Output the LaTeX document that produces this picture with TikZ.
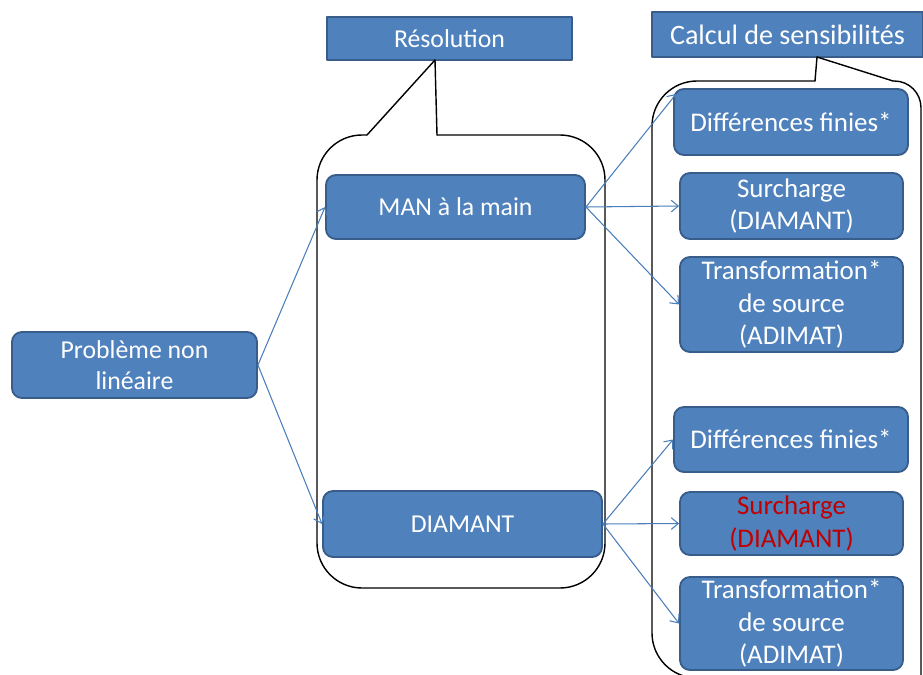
\documentclass[tikz,border=0pt]{standalone}
\usepackage{fontspec}
\setmainfont{Carlito}
\usetikzlibrary{arrows.meta,calc}
\definecolor{boxblue}{RGB}{79,129,189}
\definecolor{boxline}{RGB}{56,93,138}
\definecolor{linkblue}{RGB}{74,126,187}
\definecolor{darkred}{RGB}{192,0,0}
\begin{document}
\begin{tikzpicture}[x=0.03cm,y=-0.03cm,font=\fontsize{22}{27}\selectfont,line cap=round,line join=round,>={Straight Barb[length=6pt,width=10pt]},
	bloc/.style={draw=boxline,line width=1.6pt,fill=boxblue,text=white,rounded corners=0.3cm,align=center,inner sep=0pt},
	sens/.style={bloc,font=\fontsize{23}{27.5}\selectfont},
	titre/.style={bloc,sharp corners},
	fleche/.style={->,draw=linkblue,line width=0.9pt},
	bulle/.style={line width=1.2pt}]
			\useasboundingbox (0,0) rectangle (923,675);
			\clip (0,0) rectangle (923,675);
			% titres
			\node[titre,minimum width=7.35cm,minimum height=1.29cm] (res) at (449.5,38.5) {Résolution};
			\node[titre,font=\fontsize{24}{28}\selectfont,minimum width=8.13cm,minimum height=1.35cm] (calc) at (787.5,34.5) {Calcul de sensibilités};
			% bulles
			\draw[bulle,rounded corners=1.35cm] (367,135) -- (317,135) -- (317,588) -- (605,588) -- (605,135) -- (437,135);
			\draw[bulle] (367,135) -- (435,60) -- (437,135);
			\draw[bulle,rounded corners=1.35cm] (815,81) -- (652,81) -- (652,678) -- (921,678);
			\draw[bulle,rounded corners=0.8cm] (921,678) -- (921,81) -- (893,81);
			\draw[bulle] (815,81) -- (817,57) -- (893,81);
			% blocs
			\node[bloc,minimum width=7.35cm,minimum height=1.98cm] (prob) at (134.5,365) {Problème non\\linéaire};
			\node[bloc,minimum width=7.77cm,minimum height=1.92cm] (man) at (455.5,207) {MAN à la main};
			\node[bloc,minimum width=8.37cm,minimum height=1.98cm] (diam) at (462.5,524) {DIAMANT};
			\node[sens,minimum width=7.02cm,minimum height=1.98cm] (d1) at (791,122) {Différences finies*};
			\node[sens,minimum width=6.69cm,minimum height=1.98cm] (s1) at (791.5,206) {Surcharge\\(DIAMANT)};
			\node[sens,minimum width=6.69cm,minimum height=2.85cm] (t1) at (791.5,304.5) {Transformation*\\de source\\(ADIMAT)};
			\node[sens,minimum width=7.02cm,minimum height=1.95cm] (d2) at (791,439.5) {Différences finies*};
			\node[sens,text=darkred,minimum width=6.69cm,minimum height=1.89cm] (s2) at (791.5,523.5) {Surcharge\\(DIAMANT)};
			\node[sens,minimum width=6.69cm,minimum height=2.79cm] (t2) at (791.5,623.5) {Transformation*\\de source\\(ADIMAT)};
			% fleches
			\draw[fleche] (prob.east) -- (man.west);
			\draw[fleche] (prob.east) -- (diam.west);
			\draw[fleche] (man.east) -- ($(d1.north west)+(3,6)$);
			\draw[fleche] (man.east) -- (s1.west);
			\draw[fleche] (man.east) -- (t1.west);
			\draw[fleche] (diam.east) -- (d2.west);
			\draw[fleche] (diam.east) -- (s2.west);
			\draw[fleche] (diam.east) -- (t2.west);
		\end{tikzpicture}
\end{document}
